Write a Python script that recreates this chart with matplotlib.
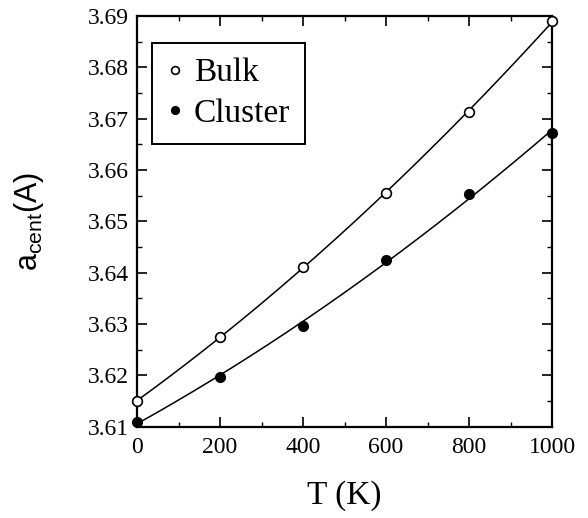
import numpy as np
import matplotlib
matplotlib.use("Agg")
import matplotlib.pyplot as plt
from matplotlib.ticker import MultipleLocator

# temperatures (K) and lattice constants
temps = [0, 200, 400, 600, 800, 1000]
bulk = [3.615, 3.6275, 3.6412, 3.6556, 3.6714, 3.6890]
cluster = [3.6110, 3.6198, 3.6296, 3.6425, 3.6554, 3.6672]

plt.rcParams['font.family'] = ['Liberation Serif', 'DejaVu Serif']

fig = plt.figure(figsize=(5.88, 5.18), dpi=100)
ax = fig.add_axes([0.233, 0.176, 0.706, 0.793])

# smooth quadratic fits through each series
tt = np.linspace(0, 1000, 200)
for ys in (bulk, cluster):
    coef = np.polyfit(temps, ys, 2)
    ax.plot(tt, np.polyval(coef, tt), color='black', lw=1.1, zorder=2)

ax.plot(temps, bulk, 'o', mfc='white', mec='black', mew=1.2, ms=7,
        label='Bulk', clip_on=False, zorder=3)
ax.plot(temps, cluster, 'o', mfc='black', mec='black', ms=7,
        label='Cluster', clip_on=False, zorder=3)

ax.set_xlim(0, 1000)
ax.set_ylim(3.61, 3.69)
ax.xaxis.set_major_locator(MultipleLocator(200))
ax.xaxis.set_minor_locator(MultipleLocator(100))
ax.yaxis.set_major_locator(MultipleLocator(0.01))
ax.yaxis.set_minor_locator(MultipleLocator(0.005))
ax.tick_params(which='both', direction='in', top=True, right=True, labelsize=17)
ax.tick_params(which='major', length=7, width=1.2)
ax.tick_params(which='minor', length=3.5, width=1)
ax.tick_params(axis='x', pad=7)
ax.tick_params(axis='y', pad=6)
for s in ax.spines.values():
    s.set_linewidth(1.6)

ax.set_xlabel('T (K)', fontsize=24, labelpad=16)
ax.set_ylabel(r'a$_{\mathregular{cent}}$(A)', fontsize=22, labelpad=30,
              family=['Liberation Sans', 'DejaVu Sans'])

leg = ax.legend(loc='upper left', bbox_to_anchor=(0.036, 0.935), fontsize=24,
                handlelength=0.5, handletextpad=0.3, markerscale=0.8,
                borderpad=0.45, labelspacing=0.3, fancybox=False,
                borderaxespad=0, edgecolor='black', framealpha=1)
leg.get_frame().set_linewidth(1.4)

fig.savefig('out.png', dpi=100)
